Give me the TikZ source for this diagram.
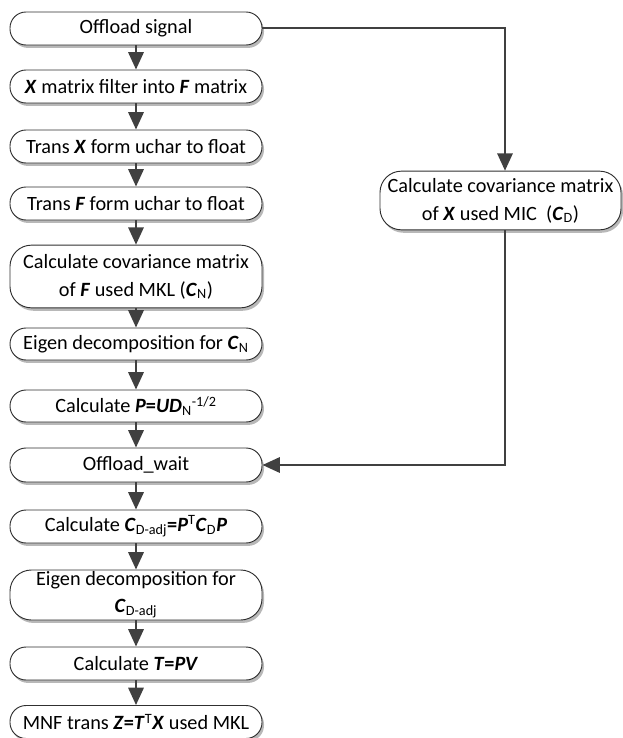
\documentclass[tikz,border=0pt]{standalone}
\usepackage{fontspec}
\setmainfont{Carlito}
\usetikzlibrary{arrows.meta,shadows,calc}
\definecolor{lnc}{HTML}{404040}
\definecolor{bdc}{HTML}{303030}
\newcommand{\bi}[1]{\textbf{\textit{#1}}}
\begin{document}
\begin{tikzpicture}[x=0.75pt,y=-0.75pt,
  box/.style={draw=bdc, line width=0.7pt, fill=white, rounded corners=12pt,
    minimum width=189pt, inner sep=0pt, align=center,
    font=\fontsize{15.2}{21}\selectfont,
    drop shadow={shadow xshift=1.5pt, shadow yshift=-2.2pt, fill=black!28, opacity=1}},
  tall/.style={rounded corners=16pt},
  arr/.style={draw=lnc, line width=1.6pt, -{Triangle[width=11.5pt,length=13pt]}},
  lnk/.style={draw=lnc, line width=1.5pt}]
\useasboundingbox (0,0) rectangle (622,738);
\node[box, minimum height=24.75pt] (b1) at (136,28.5) {Offload signal};
\node[box, minimum height=24.75pt] (b2) at (136,86.5) {\bi{X} matrix filter into \bi{F} matrix};
\node[box, minimum height=24.75pt] (b3) at (136,146.5) {Trans \bi{X} form uchar to float};
\node[box, minimum height=24.75pt] (b4) at (136,203.5) {Trans \bi{F} form uchar to float};
\node[box, tall, minimum height=47pt] (b5) at (136,276.5) {Calculate covariance matrix\\of \bi{F} used MKL (\bi{C}\textsubscript{N})};
\node[box, minimum height=24pt] (b6) at (136,344) {Eigen decomposition for \bi{C}\textsubscript{N}};
\node[box, minimum height=24pt] (b7) at (136,406) {Calculate \bi{P}\textbf{=}\bi{UD}\textsubscript{N}\textsuperscript{-1/2}};
\node[box, minimum height=25.5pt] (b8) at (136,465) {Offload\_wait};
\node[box, minimum height=24.75pt] (b9) at (136,526.5) {Calculate \bi{C}\textsubscript{D-adj}\textbf{=}\bi{P}\textsuperscript{T}\bi{C}\textsubscript{D}\bi{P}};
\node[box, tall, minimum height=37.5pt] (b10) at (136,595) {Eigen decomposition for\\[-1pt]\bi{C}\textsubscript{D-adj}};
\node[box, minimum height=24.75pt] (b11) at (136,663.5) {Calculate \bi{T}\textbf{=}\bi{PV}};
\node[box, minimum height=24.75pt] (b12) at (136,722) {MNF trans \bi{Z}\textbf{=}\bi{T}\textsuperscript{T}\bi{X} used MKL};
\node[box, tall, minimum width=180.75pt, minimum height=44pt] (rb) at (500.5,200.5) {Calculate covariance matrix\\of \bi{X} used MIC\ \ (\bi{C}\textsubscript{D})};
\foreach \a/\b in {b1/b2,b2/b3,b3/b4,b4/b5,b5/b6,b6/b7,b7/b8,b8/b9,b9/b10,b10/b11,b11/b12}
  \draw[arr] (\a.south) -- (\b.north);
\coordinate (k1) at (505,28.5);
\coordinate (k2) at (505,465);
\draw[arr, line width=1.5pt] (b1.east) -- (k1) -- (k1 |- rb.north);
\draw[arr, line width=1.5pt] (k1 |- rb.south) -- (k2) -- (b8.east);
\end{tikzpicture}
\end{document}
